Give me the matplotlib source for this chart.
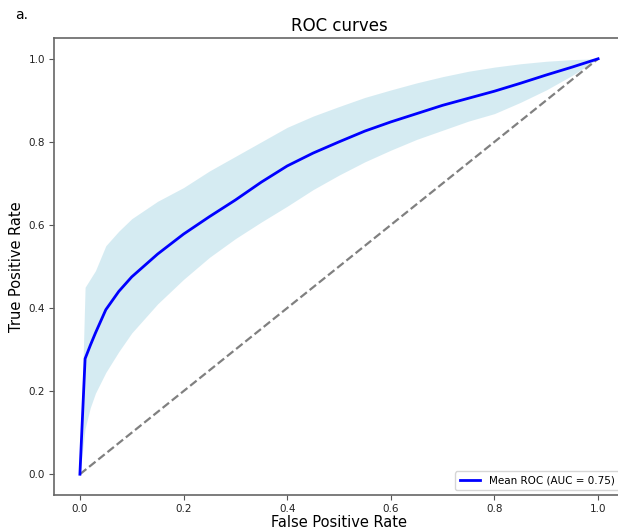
import matplotlib
matplotlib.use("Agg")
import matplotlib.pyplot as plt

fpr = [0.0, 0.01, 0.02, 0.03, 0.05, 0.075, 0.1, 0.15, 0.2, 0.25, 0.3, 0.35, 0.4, 0.45,
       0.5, 0.55, 0.6, 0.65, 0.7, 0.75, 0.8, 0.85, 0.9, 0.95, 1.0]
mean_tpr = [0.0, 0.278, 0.31, 0.34, 0.396, 0.44, 0.475, 0.53, 0.578, 0.62, 0.66, 0.703, 0.742, 0.773,
            0.80, 0.826, 0.848, 0.868, 0.888, 0.905, 0.922, 0.941, 0.961, 0.98, 1.0]
upper_tpr = [0.0, 0.45, 0.47, 0.49, 0.55, 0.585, 0.615, 0.657, 0.69, 0.73, 0.765, 0.80, 0.835, 0.862,
             0.885, 0.907, 0.925, 0.942, 0.957, 0.97, 0.98, 0.988, 0.994, 0.998, 1.0]
lower_tpr = [0.0, 0.11, 0.16, 0.195, 0.245, 0.295, 0.34, 0.41, 0.469, 0.522, 0.567, 0.607, 0.645, 0.685,
             0.72, 0.752, 0.78, 0.806, 0.828, 0.85, 0.868, 0.895, 0.925, 0.96, 1.0]
auc_label = "Mean ROC (AUC = 0.75)"

fig = plt.figure(figsize=(6.18, 5.31), dpi=100)
ax = fig.add_axes([54/618, 36/531, 570/618, 457/531])

ax.fill_between(fpr, lower_tpr, upper_tpr, color="lightblue", alpha=0.5, linewidth=0)
ax.plot([0, 1], [0, 1], linestyle="--", color="gray", lw=1.6)
ax.plot(fpr, mean_tpr, color="blue", lw=2, label=auc_label)

ax.set_xlim(-0.05, 1.05)
ax.set_ylim(-0.05, 1.05)
ax.set_xticks([0.0, 0.2, 0.4, 0.6, 0.8, 1.0])
ax.set_yticks([0.0, 0.2, 0.4, 0.6, 0.8, 1.0])
ax.tick_params(labelsize=7.5, color="#555555", labelcolor="#222222", pad=3)
for s in ax.spines.values():
    s.set_color("#666666")
    s.set_linewidth(1.2)

ax.set_xlabel("False Positive Rate", fontsize=10.5, labelpad=1)
ax.set_ylabel("True Positive Rate", fontsize=10.5, labelpad=3)
ax.set_title("ROC curves", fontsize=12, pad=5)
ax.legend(loc="lower right", fontsize=7.5, frameon=True)

fig.text(15/618, 1 - 15/531, "a.", fontsize=10, va="center", ha="left")

fig.savefig("out.png", dpi=100)
